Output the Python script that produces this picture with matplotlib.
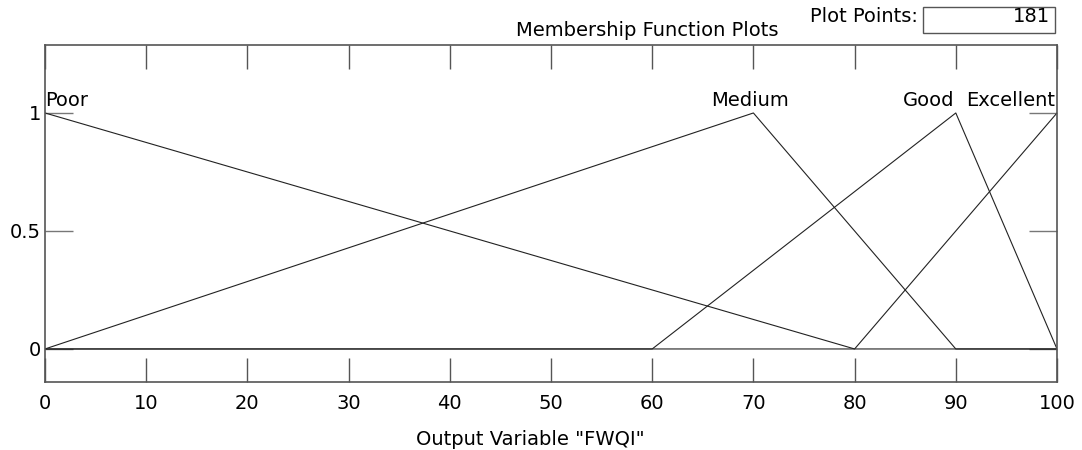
import numpy as np
import matplotlib
matplotlib.use("Agg")
import matplotlib.pyplot as plt
from matplotlib.patches import Rectangle

plt.rcParams['font.family'] = ['DejaVu Sans']

# Membership functions (breakpoints)
mf_names = ["Poor", "Medium", "Good", "Excellent"]
mf_x = [[0, 80, 100], [0, 70, 90, 100], [0, 60, 90, 100, 100], [0, 80, 100]]
mf_y = [[1, 0, 0], [0, 1, 0, 0], [0, 0, 1, 0, 0], [0, 0, 1]]
label_x = [0, 69.7, 87.3, 99.8]
label_ha = ["left", "center", "center", "right"]
xticks = [0, 10, 20, 30, 40, 50, 60, 70, 80, 90, 100]
yticks = [0, 0.5, 1]
ytick_labels = ["0", "0.5", "1"]
plot_points = "181"

FS = 14
fig = plt.figure(figsize=(10.82, 4.5), dpi=100)
ax = fig.add_axes([45/1082, 68/450, 1012/1082, 337/450])

for xs, ys in zip(mf_x, mf_y):
    ax.plot(xs, ys, color='#222222', lw=0.8)

for name, lx, ha in zip(mf_names, label_x, label_ha):
    ax.text(lx, 1.03, name, ha=ha, va='baseline', fontsize=FS)

ax.set_xlim(0, 100)
ax.set_ylim(-0.14, 1.288)
ax.set_xticks(xticks)
ax.set_xticklabels([str(t) for t in xticks], fontsize=FS)
ax.set_yticks(yticks)
ax.set_yticklabels(ytick_labels, fontsize=FS)
ax.tick_params(axis='x', direction='in', length=17, width=1, color='#555555',
               top=True, pad=8.5)
ax.tick_params(axis='y', direction='in', length=20, width=1, color='#777777',
               right=True, pad=3)
for s in ax.spines.values():
    s.set_color('#555555')
    s.set_linewidth(1.2)

fig.text(530/1082, 1 - 445/450, 'Output Variable "FWQI"', ha='center', va='baseline', fontsize=FS)
fig.text(647/1082, 1 - 36/450, "Membership Function Plots", ha='center', va='baseline', fontsize=FS)
fig.text(918/1082, 1 - 22/450, "Plot Points:", ha='right', va='baseline', fontsize=FS)
fig.patches.append(Rectangle((923/1082, 1 - 33/450), 132/1082, 26/450,
                             transform=fig.transFigure, fill=False,
                             edgecolor='#555555', lw=1))
fig.text(1050/1082, 1 - 22/450, plot_points, ha='right', va='baseline', fontsize=FS)

fig.savefig("out.png", dpi=100)
